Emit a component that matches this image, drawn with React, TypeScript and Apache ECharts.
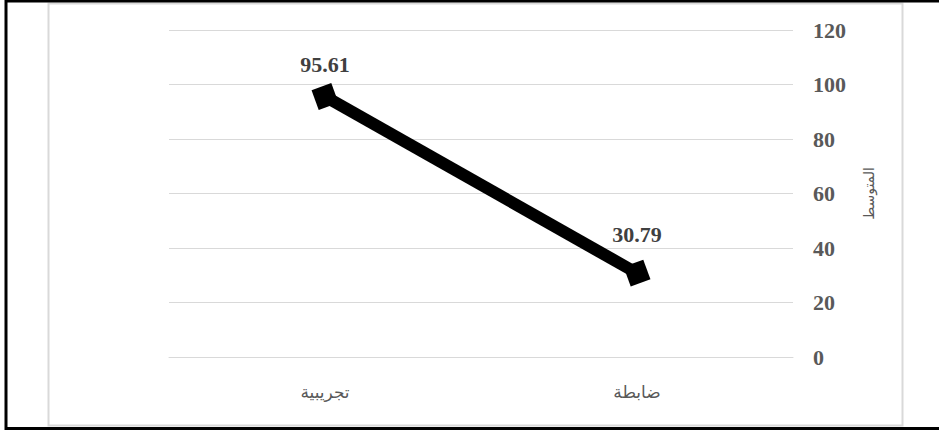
import React, { useEffect, useRef } from "react";
import * as echarts from "echarts";

const categories = ["تجريبية", "ضابطة"];
const meanValues = [95.61, 30.79];
const yAxisName = "المتوسط";

export default function App() {
  const ref = useRef<HTMLDivElement>(null);
  useEffect(() => {
    if (!ref.current) return;
    const chart = echarts.init(ref.current, null, { renderer: "svg" });
    const labelDistances = [8, 14];
    chart.setOption({
      animation: false,
      backgroundColor: "#ffffff",
      graphic: [
        { type: "rect", shape: { x: 48.5, y: 3.5, width: 854, height: 422 }, style: { fill: "none", stroke: "#d9d9d9", lineWidth: 2 }, silent: true },
        { type: "line", shape: { x1: 6, y1: 0, x2: 6, y2: 430 }, style: { stroke: "#000", lineWidth: 3 }, silent: true },
        { type: "line", shape: { x1: 5, y1: 1, x2: 939, y2: 1 }, style: { stroke: "#000", lineWidth: 3 }, silent: true },
        { type: "line", shape: { x1: 5, y1: 428.5, x2: 939, y2: 428.5 }, style: { stroke: "#000", lineWidth: 3 }, silent: true },
      ],
      grid: { left: 169, right: 146, top: 30, bottom: 73 },
      xAxis: {
        type: "category",
        data: categories,
        boundaryGap: true,
        axisLine: { show: true, lineStyle: { color: "#d9d9d9", width: 1 } },
        axisTick: { show: false },
        axisLabel: { margin: 27, fontSize: 17, color: "#595959", fontFamily: "'Liberation Serif', 'DejaVu Sans', serif" },
      },
      yAxis: {
        type: "value",
        position: "right",
        min: 0,
        max: 120,
        interval: 20,
        name: yAxisName,
        nameLocation: "middle",
        nameGap: 69,
        nameRotate: 90,
        nameTextStyle: { fontSize: 14, color: "#595959", fontFamily: "'Liberation Serif', 'DejaVu Sans', serif" },
        axisLine: { show: false },
        axisTick: { show: false },
        splitLine: { lineStyle: { color: "#d9d9d9", width: 1 } },
        axisLabel: { margin: 20, fontSize: 22, fontWeight: "bold", color: "#595959", fontFamily: "'Liberation Serif', serif" },
      },
      series: [
        {
          type: "line",
          data: meanValues.map((v, i) => ({ value: v, label: { distance: labelDistances[i] } })),
          lineStyle: { color: "#000", width: 12 },
          itemStyle: { color: "#000" },
          symbol: "rect",
          symbolSize: 21,
          symbolRotate: 20,
          label: {
            show: true,
            position: "top",
            fontSize: 22,
            fontWeight: "bold",
            color: "#404040",
            fontFamily: "'Liberation Serif', serif",
            formatter: (p: any) => Number(p.value).toFixed(2),
          },
        },
      ],
    });
    return () => chart.dispose();
  }, []);
  return <div ref={ref} style={{ position: "fixed", left: 0, top: 0, width: 939, height: 430 }} />;
}
